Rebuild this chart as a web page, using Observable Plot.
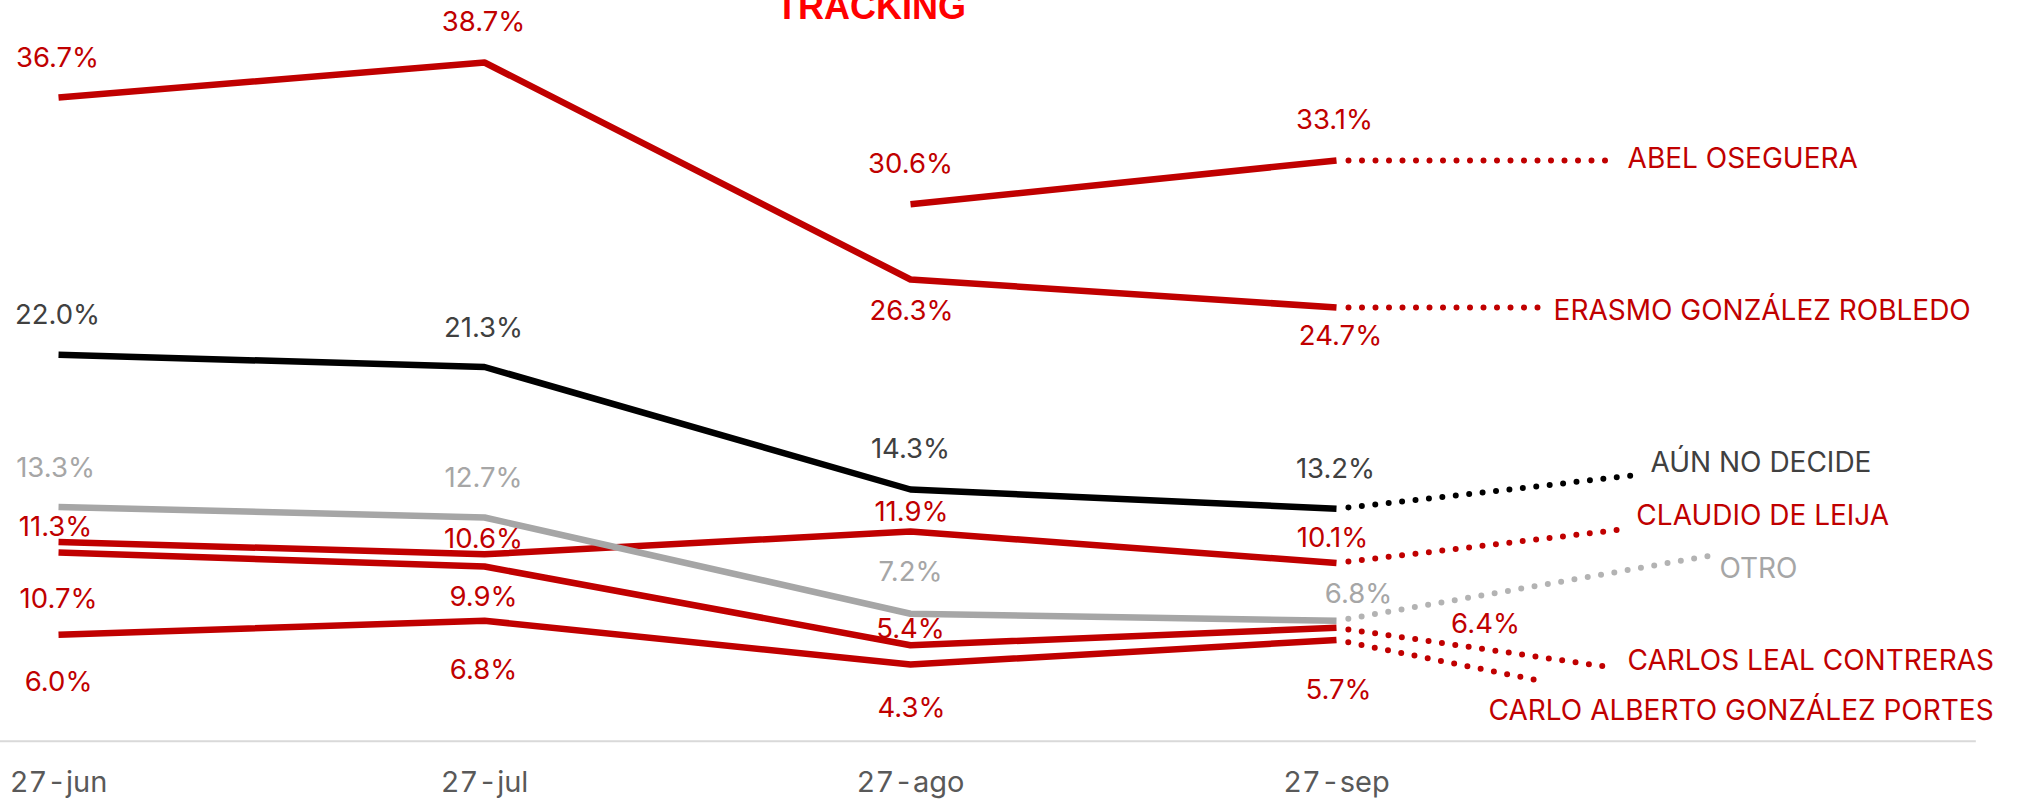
<!DOCTYPE html>
<html>
<head>
<meta charset="utf-8">
<script src="https://cdn.jsdelivr.net/npm/d3@7"></script>
<script src="https://cdn.jsdelivr.net/npm/@observablehq/plot@0.6"></script>
<style>
  html, body { margin: 0; padding: 0; background: #ffffff; overflow: hidden; }
  #chart svg { display: block; }
</style>
</head>
<body>
<div id="chart"></div>
<script>
// ---------- DATA ----------
const title = "TRACKING";
const dates = ["27-jun", "27-jul", "27-ago", "27-sep"];
const candidates = [
  "ERASMO GONZÁLEZ ROBLEDO",
  "ABEL OSEGUERA",
  "AÚN NO DECIDE",
  "CLAUDIO DE LEIJA",
  "OTRO",
  "CARLOS LEAL CONTRERAS",
  "CARLO ALBERTO GONZÁLEZ PORTES"
];
const erasmoGonzalez = [36.7, 38.7, 26.3, 24.7];
const abelOseguera   = [null, null, 30.6, 33.1];
const aunNoDecide    = [22.0, 21.3, 14.3, 13.2];
const claudioDeLeija = [11.3, 10.6, 11.9, 10.1];
const otro           = [13.3, 12.7, 7.2, 6.8];
const carlosLeal     = [10.7, 9.9, 5.4, 6.4];
const carloAlberto   = [6.0, 6.8, 4.3, 5.7];

const valuesByName = {
  "ERASMO GONZÁLEZ ROBLEDO": erasmoGonzalez,
  "ABEL OSEGUERA": abelOseguera,
  "AÚN NO DECIDE": aunNoDecide,
  "CLAUDIO DE LEIJA": claudioDeLeija,
  "OTRO": otro,
  "CARLOS LEAL CONTRERAS": carlosLeal,
  "CARLO ALBERTO GONZÁLEZ PORTES": carloAlberto
};

// ---------- STYLE / LAYOUT ----------
const RED = "#c00000", BLACK = "#000000", GRAY = "#a6a6a6", DARK = "#404040";
const look = {
  "ERASMO GONZÁLEZ ROBLEDO":       {line: RED,   dots: RED,       text: RED},
  "ABEL OSEGUERA":                 {line: RED,   dots: RED,       text: RED},
  "AÚN NO DECIDE":                 {line: BLACK, dots: BLACK,     text: DARK},
  "CLAUDIO DE LEIJA":              {line: RED,   dots: RED,       text: RED},
  "OTRO":                          {line: GRAY,  dots: "#b3b3b3", text: GRAY},
  "CARLOS LEAL CONTRERAS":         {line: RED,   dots: RED,       text: RED},
  "CARLO ALBERTO GONZÁLEZ PORTES": {line: RED,   dots: RED,       text: RED}
};
// pixel offsets of each value label from its point
const labelOffsets = {
  "ERASMO GONZÁLEZ ROBLEDO":       [[-1, -39], [-1, -40], [1, 32], [4, 29]],
  "ABEL OSEGUERA":                 [null, null, [0, -40], [-2, -40]],
  "AÚN NO DECIDE":                 [[-1, -40], [-1, -39], [0, -40], [-1, -40]],
  "CLAUDIO DE LEIJA":              [[-3, -15], [-1, -15], [1, -19], [-4, -25]],
  "OTRO":                          [[-3, -39], [-1, -39], [0, -42], [22, -27]],
  "CARLOS LEAL CONTRERAS":         [[0, 47], [-1, 31], [0, -16], [149, -4]],
  "CARLO ALBERTO GONZÁLEZ PORTES": [[0, 47], [-1, 49], [1, 44], [2, 50]]
};
// end of each dotted leader (in x-index / value units) and name-label offset in px
const leaders = {
  "ERASMO GONZÁLEZ ROBLEDO":       {x: 3.472, y: 24.7, dx: 16, dy: 3.5},
  "ABEL OSEGUERA":                 {x: 3.641, y: 33.1, dx: 18, dy: -1},
  "AÚN NO DECIDE":                 {x: 3.697, y: 15.1, dx: 17, dy: -12},
  "CLAUDIO DE LEIJA":              {x: 3.664, y: 12.0, dx: 17, dy: -14},
  "OTRO":                          {x: 3.873, y: 10.5, dx: 11, dy: 13},
  "CARLOS LEAL CONTRERAS":         {x: 3.655, y: 4.1,  dx: 12, dy: -7},
  "CARLO ALBERTO GONZÁLEZ PORTES": {x: 3.472, y: 3.4,  dx: -49, dy: 31}
};
const drawOrder = [
  "ERASMO GONZÁLEZ ROBLEDO", "ABEL OSEGUERA", "CLAUDIO DE LEIJA",
  "CARLOS LEAL CONTRERAS", "CARLO ALBERTO GONZÁLEZ PORTES", "AÚN NO DECIDE", "OTRO"
];

const FONT = "Inter, 'Noto Sans', sans-serif";
const W = 2021, H = 801;
const xDomain = [-0.1362, 4.608];
const axisEnd = 4.502;

const lineMarks = [], dotMarks = [], textMarks = [];
for (const name of drawOrder) {
  const vals = valuesByName[name];
  const rows = vals.map((v, i) => ({i, v})).filter(d => d.v != null);
  const st = look[name];
  lineMarks.push(Plot.line(rows, {x: "i", y: "v", stroke: st.line, strokeWidth: 6.5, strokeLinecap: "butt"}));
  const last = rows[rows.length - 1];
  const L = leaders[name];
  dotMarks.push(Plot.line([last, {i: L.x, v: L.y}], {
    x: "i", y: "v", stroke: st.dots, strokeWidth: 6,
    strokeDasharray: "0 13.5", strokeDashoffset: 1.5, strokeLinecap: "round"
  }));
  rows.forEach(d => {
    const off = labelOffsets[name][d.i];
    textMarks.push(Plot.text([d], {
      x: "i", y: "v", text: r => r.v.toFixed(1) + "%",
      dx: off[0], dy: off[1], fill: st.text, fontSize: 27.5, fontFamily: FONT
    }));
  });
  textMarks.push(Plot.text([{i: L.x, v: L.y, name}], {
    x: "i", y: "v", text: "name", dx: L.dx, dy: L.dy, textAnchor: "start",
    fill: st.text, fontSize: 28, fontFamily: FONT
  }));
}

const chart = Plot.plot({
  width: W,
  height: H,
  marginTop: 0,
  marginBottom: 61.75,
  marginLeft: 0,
  marginRight: 0,
  style: {fontFamily: FONT, fontSize: "29px", color: "#595959", background: "#ffffff", overflow: "visible"},
  x: {domain: xDomain, ticks: [0, 1, 2, 3], tickFormat: i => dates[i], tickSize: 0, tickPadding: 32, label: null},
  y: {domain: [0, 42.243], axis: null},
  marks: [
    Plot.ruleY([0], {x1: xDomain[0], x2: axisEnd, stroke: "#d9d9d9", strokeWidth: 2, dy: 1.5}),
    ...lineMarks,
    ...dotMarks,
    ...textMarks,
    Plot.text([title], {
      frameAnchor: "top", dx: -140, dy: 18, lineAnchor: "bottom",
      fill: "#ff0000", fontSize: 36, fontWeight: "bold", fontFamily: "'Liberation Sans', Arial, sans-serif"
    })
  ]
});
document.getElementById("chart").appendChild(chart);
</script>
</body>
</html>
